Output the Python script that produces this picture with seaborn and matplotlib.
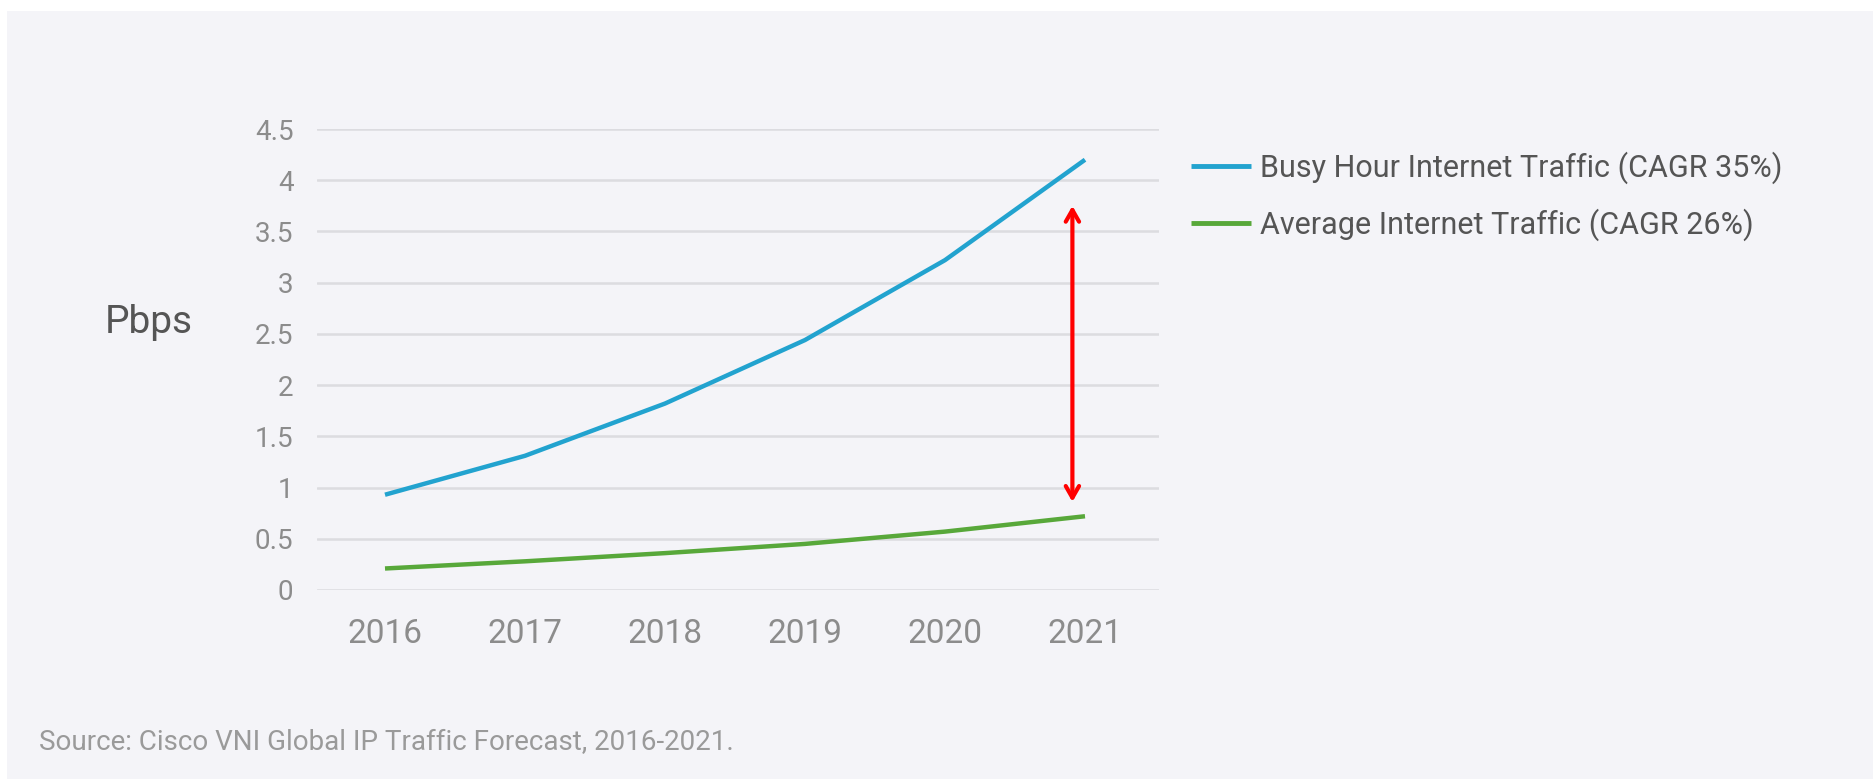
import matplotlib
matplotlib.use("Agg")
import matplotlib.pyplot as plt
import pandas as pd
import seaborn as sns
from matplotlib.patches import Rectangle

# Forecast values, petabits per second
years = [2016, 2017, 2018, 2019, 2020, 2021]
busy_hour = [0.93, 1.31, 1.82, 2.44, 3.22, 4.20]
average = [0.21, 0.28, 0.36, 0.45, 0.57, 0.72]
series_names = ["Busy Hour Internet Traffic (CAGR 35%)",
                "Average Internet Traffic (CAGR 26%)"]
y_ticks = [0, 0.5, 1, 1.5, 2, 2.5, 3, 3.5, 4, 4.5]
y_tick_labels = ["0", "0.5", "1", "1.5", "2", "2.5", "3", "3.5", "4", "4.5"]

# Gap marker between the two curves near the end of the forecast
gap_year = 2020.91
gap_low, gap_high = 0.86, 3.75

df = pd.DataFrame({
    "year": years * 2,
    "Pbps": busy_hour + average,
    "series": [series_names[0]] * len(years) + [series_names[1]] * len(years),
})

sns.set_theme(style="white")
plt.rcParams["font.family"] = ["Roboto", "DejaVu Sans"]

W, H = 1874, 779
fig = plt.figure(figsize=(W / 100, H / 100), dpi=100, facecolor="white")
panel_color = "#f4f4f8"
fig.patches.append(Rectangle((7 / W, 0), 1 - 7 / W, 1 - 11 / H,
                             transform=fig.transFigure, facecolor=panel_color,
                             edgecolor="none", zorder=-5))

ax = fig.add_axes([317 / W, 1 - 590 / H, (1159 - 317) / W, (590 - 129) / H])
ax.set_zorder(2)
ax.patch.set_alpha(0)

palette = {series_names[0]: "#22a3cf", series_names[1]: "#58a83a"}
sns.lineplot(data=df, x="year", y="Pbps", hue="series", palette=palette,
             linewidth=3.2, ax=ax, legend=True)
for ln in ax.lines:
    ln.set_clip_on(False)
    ln.set_solid_capstyle("butt")

ax.set_xlim(2016 - 68 / 140, 2021 + 74 / 140)
ax.set_ylim(0, 4.5)
ax.set_xticks(years)
ax.set_xticklabels([str(y) for y in years], fontsize=24, color="#8c8c8c")
ax.set_yticks(y_ticks)
ax.set_yticklabels(y_tick_labels, fontsize=20, color="#8c8c8c")
ax.tick_params(axis="x", length=0, pad=20)
ax.tick_params(axis="y", length=0, pad=17)
ax.grid(axis="y", color="#dcdce0", linewidth=1.8)
ax.grid(axis="x", visible=False)
ax.set_axisbelow(True)
for s in ax.spines.values():
    s.set_visible(False)
ax.set_xlabel("")
ax.set_ylabel("")

fig.text(105 / W, 1 - 323 / H, "Pbps", fontsize=28, color="#555555",
         ha="left", va="center")

ax.annotate("", xy=(gap_year, gap_high), xytext=(gap_year, gap_low),
            arrowprops=dict(arrowstyle="<->, head_length=0.7, head_width=0.4",
                            color="#ff0000", lw=3, shrinkA=0, shrinkB=0))

handles, labels = ax.get_legend_handles_labels()
leg = ax.legend(handles, labels, loc="center left",
                bbox_to_anchor=(1191 / W, 1 - 196 / H),
                bbox_transform=fig.transFigure, frameon=False, fontsize=22,
                handlelength=1.95, handletextpad=0.3, labelspacing=0.8,
                borderpad=0, borderaxespad=0)
for t in leg.get_texts():
    t.set_color("#555555")
for h in leg.get_lines():
    h.set_linewidth(3.5)

fig.text(39 / W, 1 - 743 / H,
         "Source: Cisco VNI Global IP Traffic Forecast, 2016-2021.",
         fontsize=20, color="#9a9a9a", ha="left", va="center")

fig.savefig("out.png", dpi=100, facecolor="white")
